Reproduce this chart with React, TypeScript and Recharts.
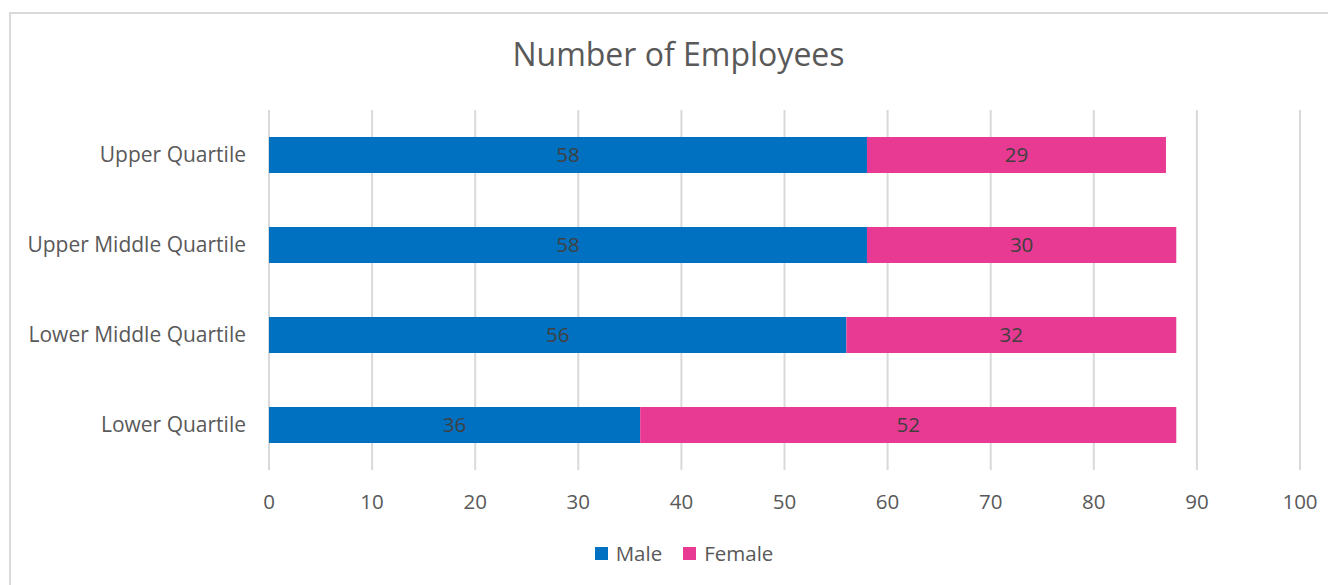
import React from "react";
import { BarChart, Bar, XAxis, YAxis, CartesianGrid, Legend, LabelList } from "recharts";

const categories = ["Upper Quartile", "Upper Middle Quartile", "Lower Middle Quartile", "Lower Quartile"];
const maleValues = [58, 58, 56, 36];
const femaleValues = [29, 30, 32, 52];
const xTicks = [0, 10, 20, 30, 40, 50, 60, 70, 80, 90, 100];

const data = categories.map((c, i) => ({ name: c, Male: maleValues[i], Female: femaleValues[i] }));

const FONT = "'Open Sans', sans-serif";
const TXT = "#595959";
const MALE = "#0070C0";
const FEMALE = "#E83A93";

const legendItems: [string, string][] = [["Male", MALE], ["Female", FEMALE]];

const LegendContent = () => (
  <div style={{ display: "flex", justifyContent: "center", fontFamily: FONT, fontSize: 20.5, color: TXT, lineHeight: "28px" }}>
    {legendItems.map(([n, c], i) => (
      <div key={n} style={{ display: "flex", alignItems: "center", marginRight: i === 0 ? 21 : 0 }}>
        <span style={{ width: 13, height: 13, background: c, display: "inline-block", marginRight: 8 }} />
        <span>{n}</span>
      </div>
    ))}
  </div>
);

export default function App() {
  return (
    <div style={{ position: "relative", width: 1328, height: 577 }}>
      <div style={{ position: "absolute", left: 1, top: 4, right: 0, bottom: 0, borderTop: "2px solid #d9d9d9", borderLeft: "2px solid #d9d9d9" }} />
      <div style={{ position: "absolute", left: 0, width: 1341, top: 24, textAlign: "center", fontFamily: FONT, fontSize: 32, color: TXT }}>
        Number of Employees
      </div>
      <BarChart
        width={1328}
        height={577}
        data={data}
        layout="vertical"
        margin={{ top: 102, right: 36, left: 0, bottom: 47 }}
        barSize={36}
        style={{ position: "absolute", left: 0, top: 0 }}
      >
        <CartesianGrid horizontal={false} stroke="#d9d9d9" strokeWidth={2} />
        <XAxis
          type="number"
          domain={[0, 100]}
          ticks={xTicks}
          axisLine={false}
          tickLine={false}
          tickSize={0}
          tickMargin={24}
          height={40}
          tick={{ fill: TXT, fontSize: 20.5, fontFamily: FONT }}
        />
        <YAxis
          type="category"
          dataKey="name"
          width={261}
          axisLine={false}
          tickLine={false}
          tickSize={0}
          tickMargin={23}
          tick={{ fill: TXT, fontSize: 21, fontFamily: FONT }}
        />
        <Legend content={<LegendContent />} wrapperStyle={{ position: "absolute", top: 531, left: 12, width: 1328 }} />
        <Bar dataKey="Male" stackId="a" fill={MALE} isAnimationActive={false}>
          <LabelList dataKey="Male" position="center" fill="#404040" fontSize={20.5} fontFamily={FONT} />
        </Bar>
        <Bar dataKey="Female" stackId="a" fill={FEMALE} isAnimationActive={false}>
          <LabelList dataKey="Female" position="center" fill="#404040" fontSize={20.5} fontFamily={FONT} />
        </Bar>
      </BarChart>
    </div>
  );
}
